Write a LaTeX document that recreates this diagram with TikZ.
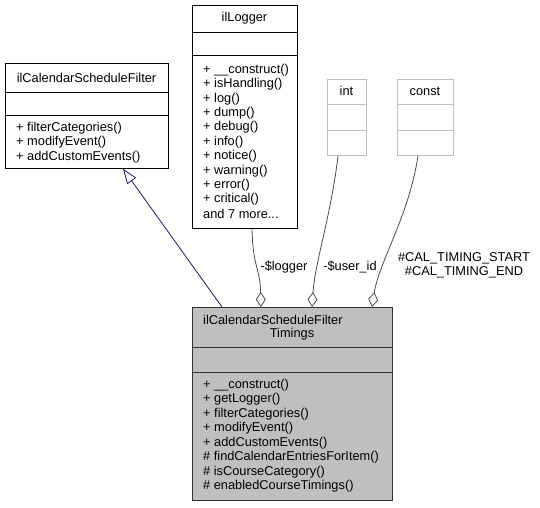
\documentclass[tikz,border=0pt]{standalone}
\usepackage{fontspec}
\setmainfont{Liberation Sans}
\usetikzlibrary{arrows.meta,calc}
\definecolor{edgeblue}{HTML}{191970}
\definecolor{lightgrey}{HTML}{BFBFBF}
\definecolor{maingrey}{HTML}{BFBFBF}
\begin{document}
\begin{tikzpicture}[x=1pt,y=-1pt,
  every node/.style={font=\fontsize{12.8}{14.4}\selectfont, inner sep=0pt},
  umlbox/.style={draw=black, line width=0.8pt, fill=white, rectangle, anchor=north west},
  greybox/.style={draw=lightgrey, line width=0.8pt, fill=white, rectangle, anchor=north west},
  mainbox/.style={draw=black!80, line width=0.8pt, fill=maingrey, rectangle, anchor=north west},
  member/.style={anchor=west},
  inherit/.style={draw=edgeblue, line width=0.8pt, -{Triangle[open,length=15pt,width=11pt,fill=white]}},
  assoc/.style={draw=black!70, line width=0.8pt, -{Diamond[open,length=15pt,width=10pt,fill=white]}},
  elabel/.style={align=center}
]
\useasboundingbox (0,0) rectangle (540,507);

% ilCalendarScheduleFilter
\node[umlbox, minimum width=163pt, minimum height=105pt] (A) at (5,63) {};
\draw[line width=0.8pt] (5,92) -- (168,92) (5,115) -- (168,115);
\node (Atitle) at (86.5,77.5) {ilCalendarScheduleFilter};
\node[member] (A1) at (16,128) {+ filterCategories()};
\node[member] (A2) at (16,142.4) {+ modifyEvent()};
\node[member] (A3) at (16,156.8) {+ addCustomEvents()};

% ilLogger
\node[umlbox, minimum width=105pt, minimum height=223pt] (L) at (192,5) {};
\draw[line width=0.8pt] (192,32) -- (297,32) (192,55) -- (297,55);
\node (Ltitle) at (244.5,18.5) {ilLogger};
\foreach \t [count=\i from 0] in {+ \_\_construct(),+ isHandling(),+ log(),+ dump(),+ debug(),+ info(),+ notice(),+ warning(),+ error(),+ critical()}
  \node[member] (L\i) at (203,70+14.4*\i) {\t};
\node[member] (L10) at (203,214) {and 7 more...};

% int
\node[greybox, minimum width=39pt, minimum height=76pt] (I) at (327,79) {};
\draw[lightgrey, line width=0.8pt] (327,104) -- (366,104) (327,130) -- (366,130);
\node (Ititle) at (346.5,91) {int};

% const
\node[greybox, minimum width=56pt, minimum height=76pt] (C) at (397,79) {};
\draw[lightgrey, line width=0.8pt] (397,104) -- (453,104) (397,130) -- (453,130);
\node (Ctitle) at (425,91) {const};

% main class
\node[mainbox, minimum width=200pt, minimum height=193pt] (M) at (192,307) {};
\draw[black!80, line width=0.8pt] (192,347) -- (392,347) (192,372) -- (392,372);
\node[anchor=west] (Mtitle1) at (203,320) {ilCalendarScheduleFilter};
\node (Mtitle2) at (292,334) {Timings};
\foreach \t [count=\i from 0] in {+ \_\_construct(),+ getLogger(),+ filterCategories(),+ modifyEvent(),+ addCustomEvents(),\# findCalendarEntriesForItem(),\# isCourseCategory(),\# enabledCourseTimings()}
  \node[member] (M\i) at (203,385+14.5*\i) {\t};

% connectors
\draw[inherit] ($(M.north west)+(30,0)$) -- ($(A.south west)+(118,0)$);
\draw[assoc] ($(L.south west)+(60,0)$) .. controls ($(L.south west)+(61,40)$) and ($(M.north west)+(68,-40)$) .. ($(M.north west)+(69,0)$);
\draw[assoc] ($(I.south west)+(11,0)$) .. controls ($(I.south west)+(4,60)$) and ($(M.north west)+(123,-45)$) .. ($(M.north west)+(120,0)$);
\draw[assoc] ($(C.south west)+(21,0)$) .. controls ($(C.south west)+(12,60)$) and ($(M.north west)+(187,-45)$) .. ($(M.north west)+(180,0)$);

% edge labels
\node[elabel] (lbl1) at (284,267) {-\$logger};
\node[elabel] (lbl2) at (350,267) {-\$user\_id};
\node[elabel] (lbl3) at (464,265.5) {\#CAL\_TIMING\_START\\\#CAL\_TIMING\_END};
\end{tikzpicture}
\end{document}
